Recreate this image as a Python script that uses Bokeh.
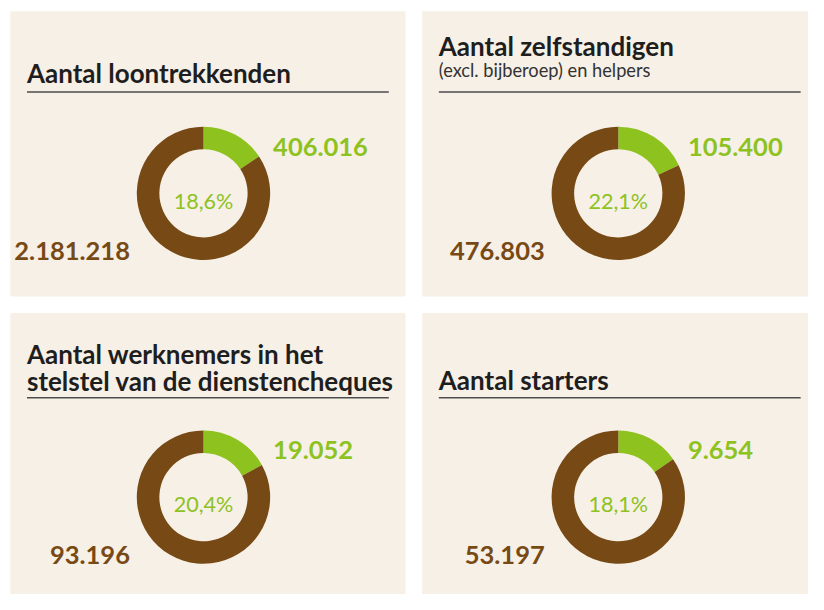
import math
from bokeh.plotting import figure
from bokeh.models import ColumnDataSource, Range1d
from bokeh.core.properties import value
from bokeh.embed import file_html
from bokeh.resources import INLINE

# ---- data ----
titles = [
    ["Aantal loontrekkenden"],
    ["Aantal zelfstandigen"],
    ["Aantal werknemers in het", "stelstel van de dienstencheques"],
    ["Aantal starters"],
]
subtitles = ["", "(excl. bijberoep) en helpers", "", ""]
green_values = [406016, 105400, 19052, 9654]
brown_values = [2181218, 476803, 93196, 53197]
percent_labels = ["18,6%", "22,1%", "20,4%", "18,1%"]

# ---- style ----
BG = "#f7f0e6"
GREEN = "#8dc21f"
BROWN = "#774a15"
DARK = "#1e1e1e"
RULE = "#4d4d4d"
FONT = "Lato"

# layout is designed on a 824 x 610 canvas and drawn at a size that fits the window
LW, LH = 824, 610
W, H = 808, 594
S = W / LW


def px(v):
    return value(f"{v * S:.2f}px")


def X(rx):
    return rx


def Y(ry):
    return LH - ry


p = figure(width=W, height=H, output_backend="svg", toolbar_location=None,
           x_range=Range1d(0, LW), y_range=Range1d(0, LH),
           x_axis_type=None, y_axis_type=None, min_border=0)
p.outline_line_color = None
p.background_fill_color = "white"
p.border_fill_color = "white"
p.grid.visible = False

# panel geometry (layout pixels): left, right, top, bottom
panels = [(10, 413, 11, 304), (430, 824, 11, 304), (10, 413, 321, 610), (430, 824, 321, 610)]
p.quad(left=[X(a) for a, b, c, d in panels], right=[X(b) for a, b, c, d in panels],
       top=[Y(c) for a, b, c, d in panels], bottom=[Y(d) for a, b, c, d in panels],
       fill_color=BG, line_color=None)

fmt = lambda v: f"{v:,}".replace(",", ".")

centers = [(207, 198), (630, 198), (207, 510), (630, 510)]
title_baselines = [[74], [47], [363, 391], [390]]
sub_baseline = [None, 71, None, None]
rule_y = [94, 94, 408, 408]

for i in range(4):
    left, right, top, bottom = panels[i]
    cx, cy = centers[i]
    tx = left + 17
    # titles
    p.text(x=[X(tx)] * len(titles[i]), y=[Y(b) for b in title_baselines[i]], text=titles[i],
           text_font=value(FONT), text_font_style="bold", text_font_size=px(26.5),
           text_color=DARK, text_baseline="alphabetic", text_align="left")
    if subtitles[i]:
        p.text(x=[X(tx)], y=[Y(sub_baseline[i])], text=[subtitles[i]],
               text_font=value(FONT), text_font_size=px(18.6),
               text_color="#333333", text_baseline="alphabetic", text_align="left")
    # rule
    p.segment(x0=[X(tx)], x1=[X(tx + 369)], y0=[Y(rule_y[i])], y1=[Y(rule_y[i])],
              line_color=RULE, line_width=1.5)
    # donut
    share = green_values[i] / (green_values[i] + brown_values[i])
    a0 = math.pi / 2
    a1 = a0 - 2 * math.pi * share
    src = ColumnDataSource(dict(
        x=[X(cx), X(cx)], y=[Y(cy), Y(cy)],
        start=[a0, a1], end=[a1, a0 - 2 * math.pi + 1e-9],
        color=[GREEN, BROWN]))
    p.annular_wedge(x="x", y="y", inner_radius=45, outer_radius=68,
                    start_angle="start", end_angle="end", direction="clock",
                    fill_color="color", line_color=None, source=src)
    # center percentage
    p.text(x=[X(cx)], y=[Y(cy + 7.5)], text=[percent_labels[i]],
           text_font=value(FONT), text_font_size=px(22),
           text_color=GREEN, text_align="center", text_baseline="alphabetic")
    # value labels
    p.text(x=[X(cx + 71)], y=[Y(cy - 48)], text=[fmt(green_values[i])],
           text_font=value(FONT), text_font_style="bold", text_font_size=px(26),
           text_color=GREEN, text_align="left", text_baseline="alphabetic")
    p.text(x=[X(cx - 75)], y=[Y(cy + 59)], text=[fmt(brown_values[i])],
           text_font=value(FONT), text_font_style="bold", text_font_size=px(26),
           text_color=BROWN, text_align="right", text_baseline="alphabetic")

open("out.html", "w").write(file_html(p, INLINE))
